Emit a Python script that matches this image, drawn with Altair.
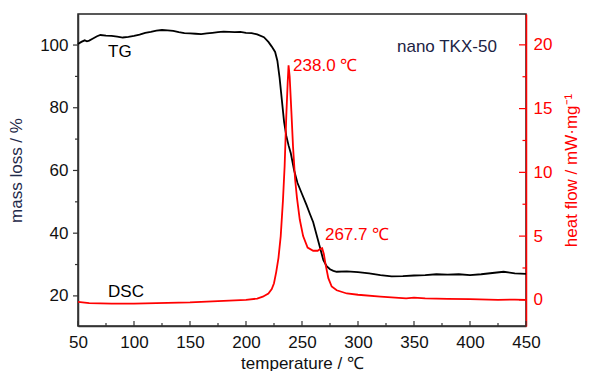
import altair as alt
import pandas as pd

# ---------------- data ----------------
tg_temp = [50, 53, 56, 58, 60, 63, 67, 70, 75, 80, 85, 90, 95, 100, 105, 110, 115, 120, 125, 130,
           135, 140, 145, 150, 155, 160, 165, 170, 175, 180, 185, 190, 195, 200, 205, 210, 216, 220,
           223, 226, 228, 230, 232, 234, 236, 238, 240, 243, 246, 250, 254, 257, 260, 263, 266, 269,
           272, 275, 278, 281, 290, 300, 310, 320, 330, 340, 350, 360, 370, 380, 390, 400, 410, 420,
           430, 440, 450]
tg_mass = [100.3, 101.0, 101.5, 101.2, 101.4, 102.0, 102.8, 103.2, 103.0, 102.9, 102.7, 102.4, 102.6,
           102.9, 103.3, 103.9, 104.2, 104.6, 104.8, 104.7, 104.5, 104.1, 103.8, 103.7, 103.6, 103.5,
           103.7, 103.9, 104.1, 104.3, 104.2, 104.1, 104.2, 103.9, 103.8, 103.4, 102.5, 101.0, 99.5,
           97.8, 95.0, 89.5, 82.5, 75.5, 71.0, 68.0, 65.5, 60.0, 56.0, 52.5, 49.0, 46.2, 43.5, 39.5,
           35.5, 31.5, 29.5, 28.5, 28.0, 27.7, 27.8, 27.6, 27.2, 26.6, 26.2, 26.3, 26.5, 26.6, 26.9,
           26.8, 26.9, 26.6, 26.9, 27.3, 27.7, 27.2, 27.0]

dsc_temp = [50, 60, 80, 100, 120, 150, 175, 200, 210, 215, 220, 223, 225, 227, 229, 231, 233, 234.5,
            236, 237.2, 238, 239, 240.5, 242, 243.8, 245.5, 248, 251, 255, 260, 264, 266.5, 268,
            269.5, 271, 273.5, 276.5, 281, 290, 300, 320, 343, 350, 360, 380, 400, 425, 440, 450]
dsc_heat = [-0.15, -0.25, -0.3, -0.3, -0.25, -0.2, -0.1, 0.0, 0.1, 0.25, 0.5, 0.85, 1.3, 2.2, 3.3,
            5.0, 7.8, 10.5, 14.5, 17.0, 18.4, 17.5, 14.8, 12.0, 9.5, 8.0, 6.3, 5.0, 4.1, 3.85, 3.85,
            4.0, 4.05, 3.6, 2.8, 1.7, 1.05, 0.75, 0.5, 0.4, 0.26, 0.12, 0.17, 0.12, 0.07, 0.05, 0.0,
            0.02, 0.0]

x_major = [50, 100, 150, 200, 250, 300, 350, 400, 450]
x_minor = [75, 125, 175, 225, 275, 325, 375, 425]
left_major = [20, 40, 60, 80, 100]
left_minor = [30, 50, 70, 90]
right_major = [0, 5, 10, 15, 20]
right_minor = [2.5, 7.5, 12.5, 17.5]

curve_labels = ["TG", "DSC"]
curve_label_T = [76.8, 76.8]
curve_label_mass = [97.8, 21.3]
sample_label = ["nano TKX-50"]
sample_label_T = [424.0]
sample_label_mass = [99.5]
peak_labels = ["238.0 ℃", "267.7 ℃"]
peak_label_T = [242.0, 270.5]
peak_label_mass = [93.3, 39.4]

# ---------------- layout / style ----------------
W, H = 448, 312
FONT = "Liberation Sans"
RED = "#ff0000"
AX = "#333333"
xs = alt.Scale(domain=[50, 450], nice=False, zero=False)
ls = alt.Scale(domain=[10.4, 109.9], nice=False, zero=False)
rs = alt.Scale(domain=[-2.05, 22.42], nice=False, zero=False)

x_axis = alt.Axis(
    values=x_major, ticks=False, grid=False, domainColor=AX, domainWidth=1.5,
    labelFontSize=17, labelColor="#111111", labelPadding=8, labelFlush=False,
    title="temperature / ℃", titleFontSize=17, titleFontWeight="normal",
    titleColor="#111111", titlePadding=5)
X = alt.X("T:Q", scale=xs, axis=x_axis)

tg_df = pd.DataFrame({"T": tg_temp, "mass": tg_mass})
dsc_df = pd.DataFrame({"T": dsc_temp, "heat": dsc_heat})

tg_line = alt.Chart(tg_df).mark_line(color="#000000", strokeWidth=1.8).encode(
    x=X,
    y=alt.Y("mass:Q", scale=ls, axis=alt.Axis(
        orient="left", values=left_major, ticks=False, grid=False, domainColor=AX,
        domainWidth=1.5, labelFontSize=17, labelColor="#111111", labelPadding=10,
        title="mass loss / %", titleFontSize=17, titleFontWeight="normal",
        titleColor="#1f2a4a", titlePadding=14)),
    order="T:Q",
)

dsc_line = alt.Chart(dsc_df).mark_line(color=RED, strokeWidth=1.8).encode(
    x=X,
    y=alt.Y("heat:Q", scale=rs, axis=alt.Axis(
        orient="right", values=right_major, ticks=False, grid=False, domainColor=RED,
        domainWidth=1.5, labelFontSize=17, labelColor=RED, labelPadding=7,
        title="heat flow / mW·mg⁻¹", titleFontSize=17, titleFontWeight="normal",
        titleColor=RED, titlePadding=12, titleAngle=270, titleBaseline="top")),
    order="T:Q",
)


def xticks(vals, length):
    return alt.Chart(pd.DataFrame({"T": vals})).mark_rule(color=AX, strokeWidth=1.2).encode(
        x=X, y=alt.value(H), y2=alt.value(H - length))


def lticks(vals, length):
    return alt.Chart(pd.DataFrame({"mass": vals})).mark_rule(color=AX, strokeWidth=1.2).encode(
        y=alt.Y("mass:Q", scale=ls, axis=None), x=alt.value(0), x2=alt.value(-length))


def rticks(vals, length):
    return alt.Chart(pd.DataFrame({"heat": vals})).mark_rule(color=RED, strokeWidth=1.2).encode(
        y=alt.Y("heat:Q", scale=rs, axis=None), x=alt.value(W), x2=alt.value(W - length))


def text_layer(labels, ts, ms, align, color):
    return alt.Chart(pd.DataFrame({"T": ts, "mass": ms, "label": labels})).mark_text(
        fontSize=17, baseline="middle", align=align, color=color).encode(
        x=X,
        y=alt.Y("mass:Q", scale=ls, axis=None),
        text="label:N",
    )


chart = alt.layer(
    tg_line,
    xticks(x_major, 5), xticks(x_minor, 3),
    lticks(left_major, 5), lticks(left_minor, 3),
    text_layer(curve_labels, curve_label_T, curve_label_mass, "left", "#000000"),
    text_layer(sample_label, sample_label_T, sample_label_mass, "right", "#1c2344"),
    dsc_line,
    rticks(right_major, 7), rticks(right_minor, 3.5),
    text_layer(peak_labels, peak_label_T, peak_label_mass, "left", RED),
).resolve_scale(y="independent").properties(
    width=W, height=H,
    padding={"left": 70, "top": 6, "right": 57, "bottom": 45},
    autosize=alt.AutoSizeParams(type="none"),
).configure(font=FONT).configure_view(stroke="#222222", strokeWidth=1.5)

chart.save("out.html", embed_options={"renderer": "svg", "actions": False})
